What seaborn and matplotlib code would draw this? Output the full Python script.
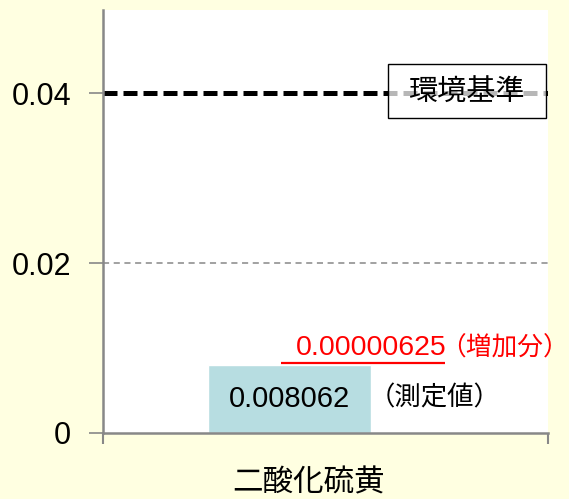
import matplotlib
matplotlib.use("Agg")
import matplotlib.pyplot as plt
from matplotlib.patches import Rectangle
import pandas as pd
import seaborn as sns

# values
categories = ["二酸化硫黄"]
measured = [0.008062]
increase = [0.00000625]
standard = 0.04
y_ticks = [0, 0.02, 0.04]
y_tick_labels = ["0", "0.02", "0.04"]
measured_label = "0.008062"
increase_label = "0.00000625"
standard_label = "環境基準"

sns.set_theme(style="white")
plt.rcParams["font.family"] = ["Liberation Sans", "Noto Sans CJK JP"]
plt.rcParams["text.color"] = "black"
plt.rcParams["ytick.labelcolor"] = "black"

fig = plt.figure(figsize=(5.69, 4.99), dpi=100, facecolor="#FFFFE1")
ax = fig.add_axes([103 / 569, 66 / 499, 445 / 569, 423 / 499])
ax.set_facecolor("white")

df = pd.DataFrame({"item": categories, "value": measured})
sns.barplot(data=df, x="item", y="value", color="#B7DDE1", width=1.0,
            saturation=1, ax=ax, zorder=2)

ax.set_xlim(-1.144, 1.586)
ax.set_ylim(0, 0.0498)

# axes styling
for side in ["top", "right"]:
    ax.spines[side].set_visible(False)
for side in ["left", "bottom"]:
    ax.spines[side].set_color("#888888")
    ax.spines[side].set_linewidth(1.8)
    ax.spines[side].set_zorder(3)

ax.set_yticks(y_ticks)
ax.set_yticklabels(y_tick_labels, fontsize=22, family="Liberation Sans",
                   color="black")
ax.tick_params(axis="y", length=10, width=1.2, color="#888888", pad=13,
               left=True)
ax.set_xticks(ax.get_xlim())
ax.set_xticklabels(["", ""])
ax.tick_params(axis="x", length=8, width=1.5, color="#888888", bottom=True)
ax.set_xlabel("")
ax.set_ylabel("")

# grid line and environmental standard line
ax.axhline(0.02, color="#888888", lw=1.1, linestyle=(0, (4, 3)), zorder=1)
ax.axhline(standard, color="black", lw=3.6, linestyle=(0, (2.8, 1.2)),
           zorder=2)

box = Rectangle((0.640, 0.745), 0.355, 0.128, transform=ax.transAxes,
                facecolor=(1, 1, 1, 0.72), edgecolor="black", lw=1.0,
                zorder=4)
ax.add_patch(box)
ax.text(0.8175, standard, standard_label, transform=ax.get_yaxis_transform(),
        ha="center", va="center", fontsize=21, family="Noto Sans CJK JP",
        color="black", zorder=5)

# bar annotations
ax.text(0, measured[0] / 2, measured_label, ha="center", va="center",
        fontsize=21, color="black", zorder=5)
ax.text(0.598, 0.083, "（測定値）", transform=ax.transAxes, ha="left",
        va="center", fontsize=19, family="Noto Sans CJK JP", color="black",
        zorder=5)

ax.text(0.434, 0.184, increase_label, transform=ax.transAxes, ha="left",
        va="baseline", fontsize=20.5, color="#FF0000", zorder=5)
ax.text(0.757, 0.184, "（増加分）", transform=ax.transAxes, ha="left",
        va="baseline", fontsize=18.5, color="#FF0000",
        family="Noto Sans CJK JP", zorder=5, clip_on=False)
ax.plot([0.400, 0.769], [0.1655, 0.1655], transform=ax.transAxes,
        color="#FF0000", lw=1.6, solid_capstyle="butt", zorder=5)

fig.text(308 / 569, 16 / 499, categories[0], ha="center", va="center",
         fontsize=22, family="Noto Sans CJK JP", color="black")

fig.savefig("out.png", dpi=100, facecolor=fig.get_facecolor())
